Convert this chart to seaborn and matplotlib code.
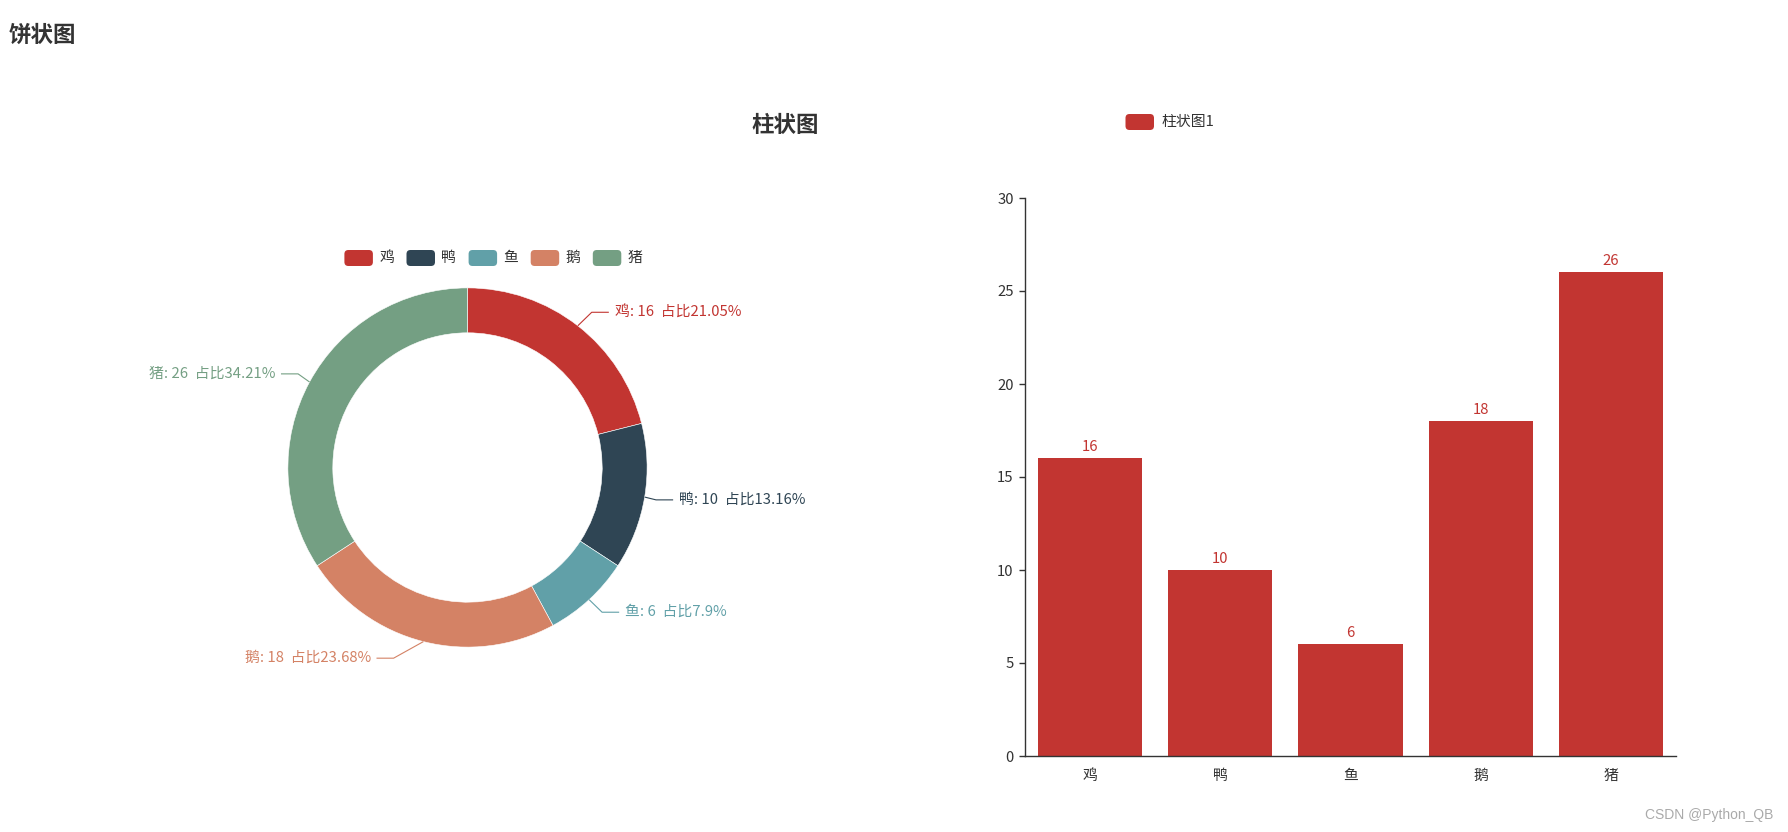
import numpy as np
import pandas as pd
import matplotlib
matplotlib.use("Agg")
import matplotlib.pyplot as plt
import matplotlib.transforms as mtransforms
from matplotlib.patches import FancyBboxPatch
import seaborn as sns

# ---- data ----
categories = ["鸡", "鸭", "鱼", "鹅", "猪"]
values = [16, 10, 6, 18, 26]
pie_colors = ["#c23531", "#2f4554", "#61a0a8", "#d48265", "#749f83"]
bar_series_name = "柱状图1"
bar_color = "#c23531"
y_ticks = [0, 5, 10, 15, 20, 25, 30]

W, H = 1788, 832
sns.set_theme(style="white")
plt.rcParams["font.family"] = ["Noto Sans CJK SC", "DejaVu Sans"]
plt.rcParams["axes.unicode_minus"] = False

FS = 10.7
fig = plt.figure(figsize=(W / 100, H / 100), dpi=100)
fig.patch.set_facecolor("white")
# pixel transform with y pointing down
px = mtransforms.Affine2D().scale(1 / W, -1 / H).translate(0, 1) + fig.transFigure

TXT = "#333333"

# ---- titles ----
fig.text(9, 35, "饼状图", transform=px, fontsize=16.2, fontweight="bold",
         color=TXT, ha="left", va="center")
fig.text(785, 125, "柱状图", transform=px, fontsize=16.2, fontweight="bold",
         color=TXT, ha="center", va="center")

# ---- pie legend ----
for i, (c, col) in enumerate(zip(categories, pie_colors)):
    lx = 344.4 + i * 62.1
    fig.patches.append(FancyBboxPatch((lx, 250), 28.5, 16,
                                      boxstyle="round,pad=0,rounding_size=4",
                                      transform=px, facecolor=col, edgecolor="none"))
    fig.text(lx + 35, 258, c, transform=px, fontsize=FS, color=TXT,
             ha="left", va="center")

# ---- bar legend ----
fig.patches.append(FancyBboxPatch((1125.5, 114), 28.5, 16,
                                  boxstyle="round,pad=0,rounding_size=4",
                                  transform=px, facecolor=bar_color, edgecolor="none"))
fig.text(1161, 122, bar_series_name, transform=px, fontsize=FS, color=TXT,
         ha="left", va="center")

# ---- pie (donut) ----
R = 179.6  # outer radius in px
cx, cy = 467.5, 467.5
ax_p = fig.add_axes([(cx - 2 * R) / W, (H - cy - 2 * R) / H, 4 * R / W, 4 * R / H])
wedges, _ = ax_p.pie(values, colors=pie_colors, startangle=90, counterclock=False,
                     radius=1, wedgeprops=dict(width=0.25, edgecolor="white", linewidth=0.4))
ax_p.set_xlim(-2, 2)
ax_p.set_ylim(-2, 2)
ax_p.axis("off")

total = sum(values)

# percentages with largest-remainder rounding (2 digits)
raw = [v / total * 100 * 100 for v in values]
floors = [int(np.floor(r)) for r in raw]
rem = 10000 - sum(floors)
order = sorted(range(len(raw)), key=lambda i: raw[i] - floors[i], reverse=True)
for i in order[:rem]:
    floors[i] += 1
pcts = [f / 100 for f in floors]

L1 = 17.1
L2 = 17.1
LD = 5.7
labels_info = []
cum = 0
for i, v in enumerate(values):
    mid = (cum + v / 2) / total * 2 * np.pi  # clockwise from top
    cum += v
    dx, dy = np.sin(mid), np.cos(mid)  # dy: up positive
    sx, sy = dx, -dy  # screen dir (y down)
    p0 = (cx + R * sx, cy + R * sy)
    ly = cy + (R + L1) * sy
    side = 1 if sx >= 0 else -1
    labels_info.append(dict(i=i, p0=p0, y=ly, side=side))

# echarts-like x adjustment of labels
for side in (1, -1):
    lst = sorted([d for d in labels_info if d["side"] == side], key=lambda d: d["y"])
    for is_down in (False, True):
        sub = [d for d in lst if (d["y"] >= cy) == is_down]
        last = 1e9 if is_down else 0
        for d in sub:
            dyv = abs(d["y"] - cy)
            dxv = np.sqrt((R + L1 + L2) ** 2 - dyv ** 2)
            if is_down and dxv >= last:
                dxv = last - 10
            if (not is_down) and dxv <= last:
                dxv = last + 10
            d["x"] = cx + dxv * side
            last = dxv


def to_data(x, y):
    return ((x - cx) / R, -(y - cy) / R)


for d in labels_info:
    i = d["i"]
    col = pie_colors[i]
    side = d["side"]
    x2 = d["x"] - side * LD
    x1 = x2 - side * L2
    pts = [to_data(*d["p0"]), to_data(x1, d["y"]), to_data(x2, d["y"])]
    ax_p.plot([p[0] for p in pts], [p[1] for p in pts], color=col, lw=0.8,
              clip_on=False, solid_capstyle="butt")
    pct_s = f"{pcts[i]:.2f}".rstrip("0").rstrip(".")
    label = f"{categories[i]}: {values[i]}  占比{pct_s}%"
    tx, ty = to_data(d["x"], d["y"])
    ax_p.text(tx, ty, label, color=col, fontsize=FS,
              ha="left" if side > 0 else "right", va="center", clip_on=False)

# ---- bar chart ----
x0, x1b, y0, y1b = 1025, 1676, 756, 198
ax_b = fig.add_axes([x0 / W, (H - y0) / H, (x1b - x0) / W, (y0 - y1b) / H])
df = pd.DataFrame({"cat": categories, "val": values})
sns.barplot(data=df, x="cat", y="val", color=bar_color, saturation=1, width=0.8,
            ax=ax_b, edgecolor="none", linewidth=0)
ax_b.set_xlim(-0.5, len(categories) - 0.5)
ax_b.set_ylim(0, 30)
ax_b.set_yticks(y_ticks)
ax_b.set_xlabel("")
ax_b.set_ylabel("")
for s in ["top", "right"]:
    ax_b.spines[s].set_visible(False)
for s in ["left", "bottom"]:
    ax_b.spines[s].set_color(TXT)
    ax_b.spines[s].set_linewidth(1)
ax_b.set_xticks(np.arange(-0.5, len(categories), 1.0), minor=True)
ax_b.tick_params(axis="x", which="major", length=0, pad=9, labelsize=FS, labelcolor=TXT)
ax_b.tick_params(axis="x", which="minor", length=4.2, width=1, color=TXT, direction="out")
ax_b.tick_params(axis="y", which="major", length=4.2, width=1, color=TXT, direction="out",
                 pad=4, labelsize=FS, labelcolor=TXT, left=True)
ax_b.grid(False)
for cont in ax_b.containers:
    ax_b.bar_label(cont, labels=[str(v) for v in values], padding=3, color=bar_color,
                   fontsize=FS)

# ---- watermark ----
fig.text(1773, 815, "CSDN @Python_QB", transform=px, fontsize=10, color="#aaaaaa",
         ha="right", va="center", family=["Liberation Sans", "DejaVu Sans"])

fig.savefig("out.png", dpi=100, facecolor="white")
